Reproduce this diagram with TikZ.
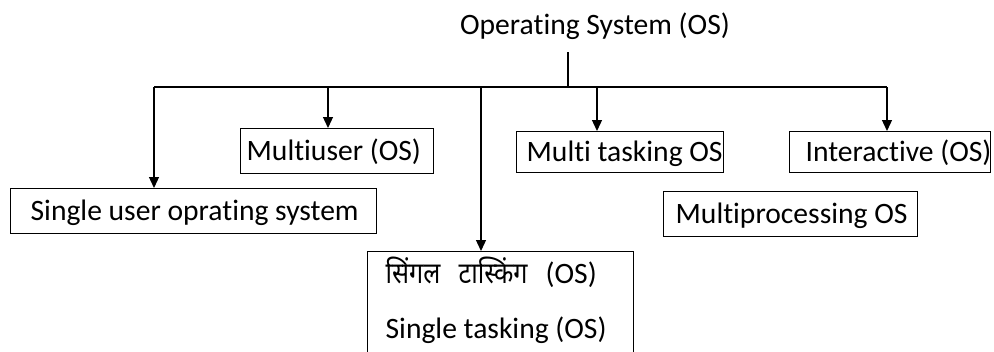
\documentclass[tikz,border=0pt]{standalone}
\usepackage{fontspec}
\setmainfont{Carlito}[Ligatures=NoCommon]
\newfontfamily\devfont[Script=Devanagari, FakeStretch=0.85]{Noto Sans}
\usetikzlibrary{arrows.meta}

\begin{document}
\begin{tikzpicture}[x=1pt,y=-1pt,
  line width=1.3pt,
  font=\fontsize{29.6}{35}\selectfont,
  tip/.style={-{Triangle[length=11pt,width=10pt]}},
  box/.style={draw, anchor=north west, inner sep=0pt},
  tall/.style={text height=31.5pt, text depth=13.5pt},
  short/.style={text height=29.5pt, text depth=11.5pt},
  label/.style={anchor=base west, inner sep=0pt}]

\useasboundingbox (0,0) rectangle (994,351);

% root
\node (os) [anchor=base, inner sep=0pt] at (595,34) {Operating System (OS)};

% branches
\node (su) [box, tall]  at (10,188)  {\makebox[366pt][l]{\hspace*{20pt}Single user oprating system}};
\node (mu) [box, tall]  at (240,128) {\makebox[193pt][l]{\hspace*{6pt}Multiuser (OS)}};
\node (mt) [box, short] at (516,131) {\makebox[207pt][l]{\hspace*{10pt}Multi tasking OS}};
\node (ia) [box, short] at (789,131) {\makebox[201pt][l]{\hspace*{16pt}Interactive (OS)}};
\node (mp) [box, tall]  at (663,191) {\makebox[254pt][l]{\hspace*{12pt}Multiprocessing OS}};
\node (st) [box, minimum width=266pt, minimum height=120pt] at (367,251) {};
\node (st1) [label] at (385,283)
  {\makebox[73pt][l]{\devfont सिंगल}\makebox[87pt][l]{\devfont टास्किंग}(OS)};
\node (st2) [label] at (385,338) {Single tasking (OS)};

% trunk and bus
\coordinate (stem) at (568,52);
\coordinate (t1) at (154,87);
\coordinate (t2) at (328,87);
\coordinate (t3) at (481,87);
\coordinate (t4) at (597,87);
\coordinate (t5) at (887,87);

\draw (stem) -- (stem |- t1);
\draw (t1) -- (t5);

\draw[tip] (t1) -- (t1 |- su.north);
\draw[tip] (t2) -- (t2 |- mu.north);
\draw[tip] (t3) -- (t3 |- st.north);
\draw[tip] (t4) -- (t4 |- mt.north);
\draw[tip] (t5) -- (t5 |- ia.north);
\end{tikzpicture}
\end{document}
